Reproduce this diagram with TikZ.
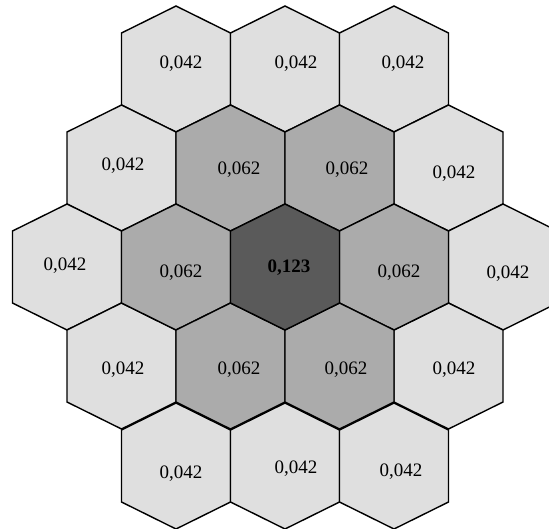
\documentclass[tikz,border=0pt]{standalone}
\usepackage{fontspec}
\setmainfont{Liberation Serif}
\usetikzlibrary{positioning}
\definecolor{CellOuter}{HTML}{DFDFDF}
\definecolor{CellRing}{HTML}{ABABAB}
\definecolor{CellCore}{HTML}{5A5A5A}

% one hexagonal cell around (x,y), filled with the given colour
\newcommand{\hexcell}[3]{%
  \draw[cell, fill=#3] (#1,#2) ++(0,-63) -- ++(54.5,27) -- ++(0,72)
    -- ++(-54.5,27) -- ++(-54.5,-27) -- ++(0,-72) -- cycle;}

\begin{document}
\begin{tikzpicture}[
  x=1pt, y=-1pt,
  cell/.style={draw=black, line width=1.4pt, line join=miter},
  val/.style={font=\fontsize{19}{22}\selectfont, inner sep=0pt, anchor=base}
]
\clip (0,0) rectangle (549,528);

% outer ring
\foreach \x/\y in {176/69, 285/69, 394/69, 121.5/168, 448.5/168, 67/267,
                   503/267, 121.5/366, 448.5/366, 176/466, 285/466, 394/466}
  {\hexcell{\x}{\y}{CellOuter}}
% inner ring
\foreach \x/\y in {230.5/168, 339.5/168, 176/267, 394/267, 230.5/366, 339.5/366}
  {\hexcell{\x}{\y}{CellRing}}
% centre
\hexcell{285}{267}{CellCore}

% values
\node[val] (o1) at (181,68.5) {0,042};
\node[val] (o2) at (296,68.5) {0,042};
\node[val] (o3) at (403,68.5) {0,042};
\node[val] (o4) at (123,170.5) {0,042};
\node[val] (r1) at (239,174.5) {0,062};
\node[val] (r2) at (347,174.5) {0,062};
\node[val] (o5) at (454,178.5) {0,042};
\node[val] (o6) at (65,270.5) {0,042};
\node[val] (r3) at (181,277.5) {0,062};
\node[val, font=\fontsize{19}{22}\selectfont\bfseries] (core) at (289,272.5) {0,123};
\node[val] (r4) at (399,277.5) {0,062};
\node[val] (o7) at (508,278.5) {0,042};
\node[val] (o8) at (123,374.5) {0,042};
\node[val] (r5) at (239,374.5) {0,062};
\node[val] (r6) at (346,374.5) {0,062};
\node[val] (o9) at (454,374.5) {0,042};
\node[val] (o10) at (181,478.5) {0,042};
\node[val] (o11) at (296,473.5) {0,042};
\node[val] (o12) at (401,476.5) {0,042};
\end{tikzpicture}
\end{document}
